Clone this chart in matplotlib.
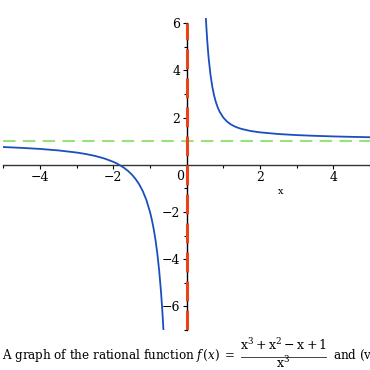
import matplotlib
matplotlib.use("Agg")
import matplotlib.pyplot as plt
from matplotlib.lines import Line2D
from matplotlib.ticker import FixedLocator

# Rational function f(x) = (x^3 + x^2 - x + 1) / x^3
x_left = [-5.0, -4.5, -4.0, -3.5, -3.0, -2.75, -2.5, -2.25, -2.0, -1.9, -1.8, -1.7,
          -1.6, -1.5, -1.4, -1.3, -1.2, -1.1, -1.0, -0.95, -0.9, -0.85, -0.8,
          -0.75, -0.7, -0.67, -0.65, -0.633]
y_left = [0.752, 0.717, 0.672, 0.609, 0.519, 0.456, 0.376, 0.270, 0.125, 0.051, -0.036,
          -0.138, -0.260, -0.407, -0.589, -0.816, -1.106, -1.487, -2.0, -2.327,
          -2.717, -3.189, -3.766, -4.482, -5.385, -6.045, -6.547, -7.018]

x_right = [0.525, 0.54, 0.56, 0.58, 0.6, 0.65, 0.7, 0.75, 0.8, 0.85, 0.9, 1.0, 1.1,
           1.2, 1.3, 1.4, 1.5, 1.75, 2.0, 2.5, 3.0, 3.5, 4.0, 4.5, 5.0]
y_right = [6.187, 5.773, 5.291, 4.877, 4.519, 3.813, 3.303, 2.926, 2.641, 2.421,
           2.248, 2.0, 1.834, 1.718, 1.633, 1.569, 1.519, 1.431, 1.375, 1.304,
           1.259, 1.227, 1.203, 1.184, 1.168]

vert_asym = 0
horiz_asym = 1

x_ticks = [-4, -2, 2, 4]
y_ticks = [-6, -4, -2, 2, 4, 6]

caption_left = r"A graph of the rational function $f\,(x)\;=$"
caption_num = r"$\mathrm{x}^3+\mathrm{x}^2-\mathrm{x}+1$"
caption_den = r"$\mathrm{x}^3$"
caption_right = r"and (vertical asymptote $x=0$, horizontal asymptote $y=1$)"

plt.rcParams['font.family'] = 'DejaVu Serif'
plt.rcParams['mathtext.fontset'] = 'dejavuserif'

W = H = 370


def fx(px):
    return px / W


def fy(py):
    return 1 - py / H


fig = plt.figure(figsize=(3.7, 3.7), dpi=100)
ax = fig.add_axes([0.009, 0.1086, 0.991, 0.8284])

ax.set_xlim(-5, 5)
ax.set_ylim(-7, 6)

ax.plot(x_left, y_left, color='#1a4fbd', lw=1.3, zorder=3)
ax.plot(x_right, y_right, color='#1a4fbd', lw=1.3, zorder=3, clip_on=False)

ax.axhline(horiz_asym, color='#98e27c', lw=1.5, linestyle=(0, (6, 3.5)), zorder=2)
ax.axvline(vert_asym, color='#e8431a', lw=2.2, linestyle=(0, (6.5, 3)), zorder=4)

# axes through the origin
for side in ['top', 'right']:
    ax.spines[side].set_visible(False)
ax.spines['left'].set_position(('data', 0))
ax.spines['bottom'].set_position(('data', 0))
ax.spines['left'].set_color('black')
ax.spines['bottom'].set_color('#333333')
ax.spines['left'].set_linewidth(1.0)
ax.spines['bottom'].set_linewidth(1.0)

ax.xaxis.set_major_locator(FixedLocator(x_ticks))
ax.yaxis.set_major_locator(FixedLocator(y_ticks))
ax.xaxis.set_minor_locator(FixedLocator([-5, -3, -1, 1, 3, 5]))
ax.yaxis.set_minor_locator(FixedLocator([-7, -5, -3, -1, 1, 3, 5]))
ax.tick_params(which='major', direction='out', length=3, width=0.8, labelsize=9, pad=1.5)
ax.tick_params(which='minor', direction='out', length=2.5, width=0.8)

ax.text(-0.18, -0.5, '0', fontsize=9, ha='center', va='center')
ax.text(2.55, -1.13, 'x', fontsize=7, ha='center', va='center')

# caption with a stacked fraction
fig.text(fx(1.7), fy(359.5), caption_left, fontsize=8.6, ha='left', va='baseline')
fig.text(fx(283.5), fy(350.5), caption_num, fontsize=9, ha='center', va='baseline')
fig.text(fx(283.5), fy(367.5), caption_den, fontsize=9, ha='center', va='baseline')
fig.add_artist(Line2D([fx(241), fx(326)], [fy(356.5), fy(356.5)], color='#444444', lw=0.7))
fig.text(fx(333), fy(359.5), caption_right, fontsize=8.6, ha='left', va='baseline')

fig.savefig('out.png', dpi=100, facecolor='white')
